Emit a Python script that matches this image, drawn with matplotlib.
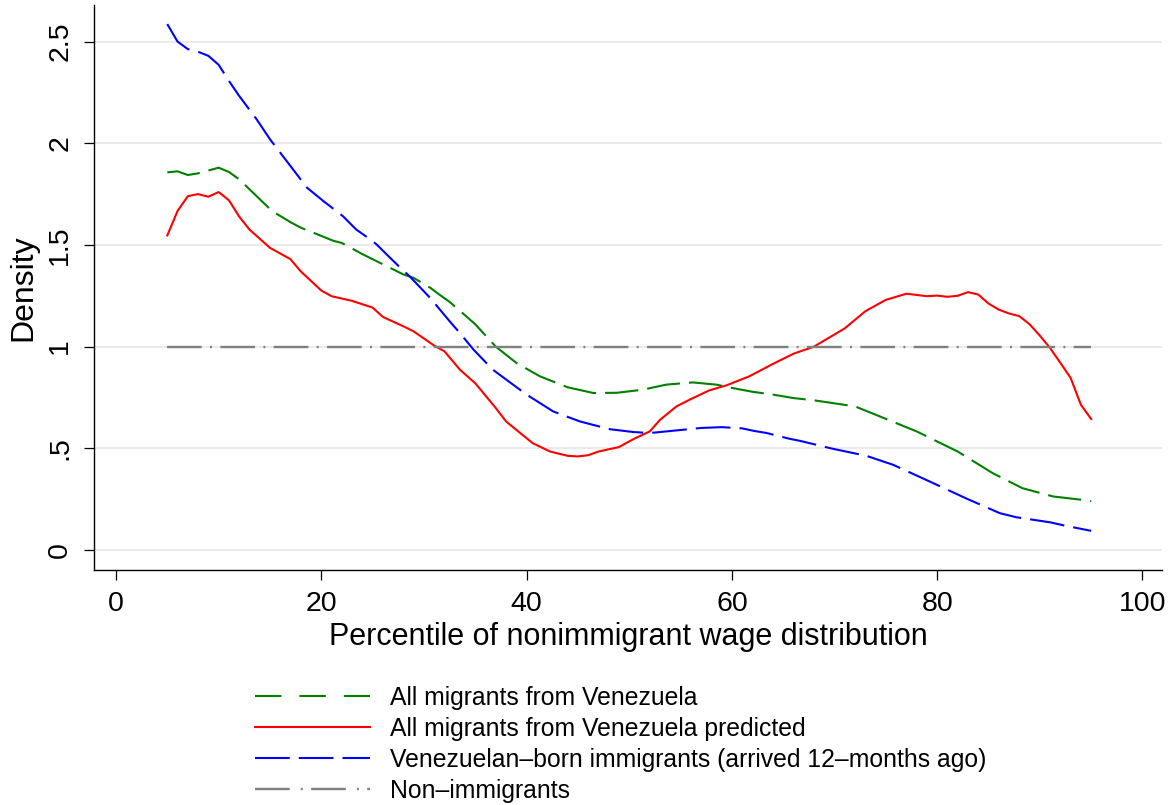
import numpy as np
from matplotlib import pyplot as plt

plt.rcParams['font.family'] = ['Liberation Sans', 'DejaVu Sans']
plt.rcParams['lines.scale_dashes'] = False

# All migrants from Venezuela (green, dashed)
green_x = [5, 6, 7, 8, 10, 11, 12, 13.7, 15.2, 17, 18, 19, 21.2, 22, 24, 26, 28, 29,
           30.6, 31.5, 32.5, 34.1, 35, 37, 39, 41.3, 44, 46.5, 48.8, 51.3, 53.6, 56.2,
           58.5, 60, 62, 64, 66, 68, 72, 74.4, 78, 82, 85.4, 88.3, 91.3, 94.2, 95]
green_y = [1.857, 1.862, 1.844, 1.852, 1.88, 1.859, 1.823, 1.74, 1.667, 1.612, 1.585, 1.565,
           1.52, 1.51, 1.455, 1.405, 1.355, 1.338, 1.29, 1.256, 1.22, 1.15, 1.11, 1.0, 0.92,
           0.854, 0.80, 0.772, 0.773, 0.788, 0.813, 0.824, 0.813, 0.797, 0.778, 0.764, 0.747,
           0.736, 0.706, 0.657, 0.583, 0.484, 0.378, 0.304, 0.263, 0.246, 0.24]

# All migrants from Venezuela predicted (red, solid)
red_x = [5, 6, 7, 8, 9, 10, 11, 12, 13, 15, 17, 18, 20, 21, 23, 25, 26, 28, 29, 31, 32,
         33.5, 35, 37, 38, 40.6, 42.3, 44, 45, 46, 47, 49, 50.4, 52, 53, 54.6, 56, 57.8,
         59.5, 61.7, 64, 66, 68, 71, 73, 75, 77, 79, 80, 81, 82, 83, 84, 85, 86, 87, 88,
         89, 90, 91, 92, 93, 94, 95]
red_y = [1.547, 1.667, 1.74, 1.75, 1.737, 1.76, 1.72, 1.64, 1.576, 1.486, 1.43, 1.37,
         1.276, 1.248, 1.225, 1.192, 1.146, 1.10, 1.075, 1.005, 0.977, 0.887, 0.82, 0.698,
         0.632, 0.525, 0.484, 0.463, 0.46, 0.466, 0.484, 0.506, 0.545, 0.583, 0.64, 0.706,
         0.742, 0.785, 0.81, 0.854, 0.915, 0.965, 1.0, 1.09, 1.174, 1.23, 1.26, 1.248,
         1.251, 1.245, 1.25, 1.268, 1.256, 1.212, 1.182, 1.163, 1.15, 1.11, 1.054, 0.993,
         0.92, 0.846, 0.714, 0.644]

# Venezuelan-born immigrants, arrived 12 months ago (blue, long dash)
blue_x = [5, 6, 7, 8, 9, 10, 11, 12, 13.7, 15, 17, 18.6, 20.2, 22.1, 23.4, 24.7, 25.4,
          26.7, 27.7, 28.6, 30.6, 32.5, 33.5, 34.8, 36.7, 40, 42.6, 45.2, 48.1, 50.4, 52,
          54.6, 57, 59, 61, 62.1, 63.4, 65.6, 66.6, 69.8, 73.1, 75.7, 79.3, 82.8, 86.1,
          87.7, 91, 92.6, 95]
blue_y = [2.586, 2.50, 2.463, 2.45, 2.43, 2.386, 2.307, 2.233, 2.118, 2.02, 1.888, 1.782,
          1.716, 1.642, 1.576, 1.53, 1.502, 1.437, 1.388, 1.346, 1.24, 1.125, 1.067, 0.987,
          0.887, 0.764, 0.681, 0.632, 0.594, 0.58, 0.575, 0.588, 0.60, 0.604, 0.598, 0.586,
          0.575, 0.547, 0.537, 0.498, 0.463, 0.419, 0.336, 0.254, 0.181, 0.161, 0.136,
          0.118, 0.094]

# Non-immigrants (flat reference)
gray_x = [5, 95]
gray_y = [1, 1]

labels = ['All migrants from Venezuela',
          'All migrants from Venezuela predicted',
          'Venezuelan\u2013born immigrants (arrived 12\u2013months ago)',
          'Non\u2013immigrants']
yticks = [0, 0.5, 1, 1.5, 2, 2.5]
ytick_labels = ['0', '.5', '1', '1.5', '2', '2.5']
xticks = [0, 20, 40, 60, 80, 100]

fig = plt.figure(figsize=(11.74, 8.05), dpi=100)
ax = fig.add_axes([94 / 1174, 1 - 570 / 805, (1162 - 94) / 1174, (570 - 5) / 805])

lw = 1.5
ax.plot(green_x, green_y, color='#008000', lw=lw, dashes=(24, 6.5))
ax.plot(red_x, red_y, color='#ff0000', lw=lw, ls='solid')
ax.plot(blue_x, blue_y, color='#0000ff', lw=lw, dashes=(25, 6.5))
ax.plot(gray_x, gray_y, color='#808080', lw=1.7, dashes=(25, 6, 1.4, 6))

ax.set_xlim(-2.14, 101.9)
ax.set_ylim(-0.0985, 2.68)
ax.set_yticks(yticks)
ax.set_yticklabels(ytick_labels, rotation=90, va='center')
ax.set_xticks(xticks)
ax.yaxis.grid(True, color='#eaeaea', lw=1.5)
ax.set_axisbelow(True)
for s in ['top', 'right']:
    ax.spines[s].set_visible(False)
ax.spines['left'].set_linewidth(1.0)
ax.spines['bottom'].set_linewidth(1.0)
ax.tick_params(axis='both', length=7, width=0.9, labelsize=20.5, pad=8)
ax.set_xlabel('Percentile of nonimmigrant wage distribution', fontsize=22, labelpad=4)
ax.set_ylabel('Density', fontsize=23, labelpad=6)

# legend handles drawn with the dash patterns of the original key
leg_lines = [plt.Line2D([], [], color='#008000', lw=lw, dashes=(19, 13)),
             plt.Line2D([], [], color='#ff0000', lw=lw, ls='solid'),
             plt.Line2D([], [], color='#0000ff', lw=lw, dashes=(25, 6.5)),
             plt.Line2D([], [], color='#808080', lw=1.7, dashes=(25, 8, 1.4, 6))]
fig.legend(leg_lines, labels, loc='upper left', frameon=False,
           bbox_to_anchor=(255 / 1174, 1 - 686 / 805), bbox_transform=fig.transFigure,
           borderpad=0, borderaxespad=0, fontsize=17.8, handlelength=4.65,
           handletextpad=0.8, labelspacing=0.28)

fig.savefig('out.png', dpi=100)
